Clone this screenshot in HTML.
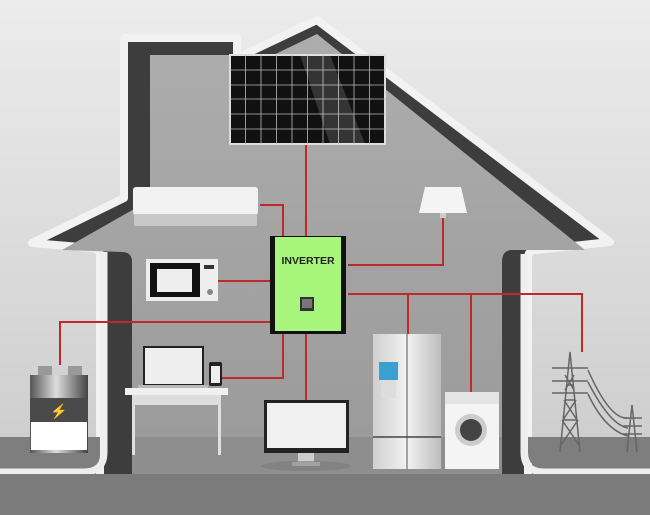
<!DOCTYPE html>
<html><head><meta charset="utf-8"><style>html,body{margin:0;padding:0;background:#ddd}svg{display:block}</style></head>
<body>
<svg width="650" height="515" viewBox="0 0 650 515" xmlns="http://www.w3.org/2000/svg" font-family="Liberation Sans, sans-serif">
<defs>
<linearGradient id="bg" x1="0" y1="0" x2="0" y2="1"><stop offset="0" stop-color="#ececec"/><stop offset="1" stop-color="#c9c9c9"/></linearGradient>
<linearGradient id="inner" x1="0" y1="0" x2="0" y2="1"><stop offset="0" stop-color="#adadad"/><stop offset="1" stop-color="#999"/></linearGradient>
<linearGradient id="metal" x1="0" y1="0" x2="1" y2="0"><stop offset="0" stop-color="#cfcfcf"/><stop offset="0.5" stop-color="#f2f2f2"/><stop offset="1" stop-color="#bdbdbd"/></linearGradient>
<linearGradient id="bat" x1="0" y1="0" x2="1" y2="0"><stop offset="0" stop-color="#555"/><stop offset="0.45" stop-color="#ddd"/><stop offset="1" stop-color="#444"/></linearGradient>
</defs>
<rect width="650" height="515" fill="url(#bg)"/>
<rect x="0" y="437" width="650" height="78" fill="#7e7e7e"/>
<!-- house outer -->
<path d="M100,480 L100,256 Q100,248 92,248 L32,243 L124,198 L124,38 L237,38 L237,58 L317,20 L610,242 L536,250 Q528,250 528,258 L528,480 Z" fill="#3d3d3d" stroke="#f2f2f2" stroke-width="8" stroke-linejoin="round"/>
<path d="M132,480 L132,262 Q132,252 122,252 L62,250 L150,200 L150,55 L232,55 L232,75 L317,34 L585,250 L512,250 Q502,250 502,262 L502,480 Z" fill="url(#inner)"/>
<!-- cutout bottoms -->
<path d="M0,437 L100,437 L100,455 Q100,468 86,468 L0,468 Z" fill="#7e7e7e"/>
<path d="M528,437 L650,437 L650,468 L545,468 Q528,468 528,452 Z" fill="#7e7e7e"/>
<path d="M104,252 L104,452 Q104,472 84,472 L0,472" fill="none" stroke="#eee" stroke-width="7"/>
<path d="M524,254 L524,452 Q524,472 544,472 L650,472" fill="none" stroke="#eee" stroke-width="7"/>
<rect x="0" y="474" width="650" height="41" fill="#7b7b7b"/>
<rect x="132" y="437" width="370" height="37" fill="#8e8e8e"/>

<!-- wires -->
<g fill="none" stroke="#c0282a" stroke-width="2">
<path d="M306,143 L306,236"/>
<path d="M260,205 L283,205 L283,236"/>
<path d="M443,215 L443,265 L348,265"/>
<path d="M270,281 L218,281"/>
<path d="M270,322 L60,322 L60,365"/>
<path d="M283,333 L283,378 L222,378"/>
<path d="M306,333 L306,400"/>
<path d="M348,294 L582,294 L582,352"/>
<path d="M408,294 L408,334"/>
<path d="M471,294 L471,392"/>
</g>

<!-- solar panel -->
<rect x="230" y="55" width="155" height="89" fill="#111" stroke="#ddd" stroke-width="2"/>
<g stroke="#bbb" stroke-width="0.8">
<line x1="245.5" y1="55" x2="245.5" y2="144"/><line x1="261" y1="55" x2="261" y2="144"/><line x1="276.5" y1="55" x2="276.5" y2="144"/><line x1="292" y1="55" x2="292" y2="144"/><line x1="307.5" y1="55" x2="307.5" y2="144"/><line x1="323" y1="55" x2="323" y2="144"/><line x1="338.5" y1="55" x2="338.5" y2="144"/><line x1="354" y1="55" x2="354" y2="144"/><line x1="369.5" y1="55" x2="369.5" y2="144"/>
<line x1="230" y1="70" x2="385" y2="70"/><line x1="230" y1="85" x2="385" y2="85"/><line x1="230" y1="99" x2="385" y2="99"/><line x1="230" y1="114" x2="385" y2="114"/><line x1="230" y1="129" x2="385" y2="129"/>
</g>
<path d="M300,55 L330,55 L365,144 L330,144 Z" fill="#fff" opacity="0.15"/>

<!-- AC -->
<rect x="133" y="187" width="125" height="28" rx="3" fill="#f2f2f2"/>
<rect x="134" y="214" width="123" height="12" rx="2" fill="#c8c8c8"/>

<!-- lamp -->
<path d="M425,187 L461,187 L467,213 L419,213 Z" fill="#f4f4f4"/>
<rect x="440" y="213" width="6" height="5" fill="#ccc"/>

<!-- inverter -->
<rect x="270" y="236" width="76" height="98" fill="#111"/>
<rect x="275" y="237" width="66" height="94" fill="#a8f57c"/>
<text x="308" y="264" font-size="10.5" font-weight="bold" text-anchor="middle" fill="#222">INVERTER</text>
<rect x="300" y="297" width="14" height="14" fill="#333"/><rect x="302" y="299" width="10" height="9" fill="#777"/>

<!-- microwave -->
<rect x="146" y="259" width="72" height="42" fill="#eee"/>
<rect x="150" y="263" width="50" height="34" fill="#111"/><rect x="157" y="269" width="35" height="23" fill="#eee"/>
<rect x="204" y="265" width="10" height="4" fill="#333"/><circle cx="210" cy="292" r="3" fill="#888"/>

<!-- battery -->
<rect x="38" y="366" width="14" height="10" fill="#999"/><rect x="68" y="366" width="14" height="10" fill="#999"/>
<rect x="30" y="375" width="58" height="78" fill="url(#bat)"/>
<rect x="30" y="398" width="58" height="24" fill="#4a4a4a"/>
<rect x="31" y="422" width="56" height="28" fill="#fff"/>
<text x="59" y="416" font-size="14" text-anchor="middle" fill="#fff">⚡</text>

<!-- table & laptop -->
<rect x="143" y="346" width="61" height="40" fill="#222"/><rect x="145" y="348" width="57" height="36" fill="#eee"/>
<rect x="138" y="385" width="70" height="3" fill="#bbb"/>
<rect x="209" y="362" width="13" height="24" rx="2" fill="#222"/><rect x="211" y="366" width="9" height="17" fill="#eee"/>
<rect x="125" y="388" width="103" height="7" fill="#f0f0f0"/>
<rect x="132" y="395" width="3" height="60" fill="#e0e0e0"/><rect x="218" y="395" width="3" height="60" fill="#e0e0e0"/>
<rect x="132" y="395" width="89" height="10" fill="#ddd"/>

<!-- monitor -->
<rect x="264" y="400" width="85" height="53" fill="#222"/><rect x="267" y="403" width="79" height="45" fill="#f0f0f0"/>
<rect x="298" y="453" width="16" height="10" fill="#ccc"/><rect x="292" y="462" width="28" height="4" fill="#ddd"/>
<ellipse cx="306" cy="466" rx="45" ry="5" fill="#7a7a7a" opacity="0.6"/>

<!-- fridge -->
<rect x="373" y="334" width="68" height="135" fill="url(#metal)"/>
<line x1="407" y1="334" x2="407" y2="469" stroke="#555" stroke-width="1"/>
<line x1="373" y1="437" x2="441" y2="437" stroke="#444" stroke-width="1.5"/>
<rect x="379" y="362" width="19" height="18" fill="#3aa0d0"/><rect x="381" y="380" width="15" height="18" fill="#ddd"/>

<!-- washer -->
<rect x="445" y="392" width="54" height="77" fill="#f4f4f4"/>
<rect x="445" y="392" width="54" height="12" fill="#e4e4e4"/>
<circle cx="471" cy="430" r="16" fill="#ccc"/><circle cx="471" cy="430" r="11" fill="#444"/>

<!-- towers -->
<g stroke="#666" stroke-width="1.5" fill="none">
<path d="M560,452 L570,352 L580,452"/><path d="M563,420 L577,420 M565,400 L575,400 M566,385 L574,385"/>
<path d="M552,368 L588,368 M552,381 L588,381 M552,393 L588,393"/>
<path d="M565,375 L574,390 M574,375 L565,390 M564,400 L577,420 M576,400 L563,420 M562,420 L579,445 M578,420 L561,445"/>
<path d="M588,370 Q610,420 628,418 M588,382 Q610,425 628,428 M588,394 Q605,430 628,436"/>
<path d="M627,452 L632,405 L637,452"/><path d="M623,418 L642,418 M623,426 L642,426 M623,434 L642,434"/>
</g>
</svg>
</body></html>
